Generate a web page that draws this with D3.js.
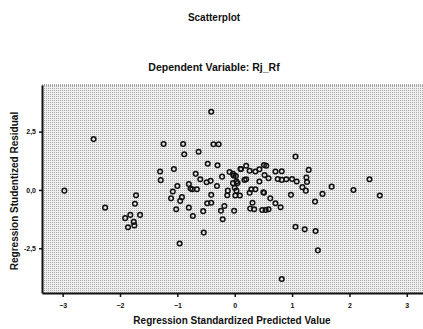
<!DOCTYPE html>
<html>
<head>
<meta charset="utf-8">
<script src="https://cdn.jsdelivr.net/npm/d3@7"></script>
<style>
  body { margin: 0; background: #fff; }
  text { font-family: "Liberation Sans", Arial, sans-serif; font-weight: bold; fill: #111; }
</style>
</head>
<body>
<div id="draw_here"></div>
<script type="text/javascript">
    // Data
    predicted = [-2.97, -2.46, -2.26, -1.72, -1.74, -1.91, -1.82, -1.65, -1.76, -1.86,
        -1.75, -1.24, -1.30, -1.29, -1.06, -0.90, -0.88, -0.63, -0.41, -0.37,
        -0.28, -0.47, -0.30, -0.68, -0.60, -0.49, -0.42, -0.31, -1.08, -1.00,
        -1.11, -0.92, -0.95, -1.02, -0.77, -0.66, -0.80, -0.73, -0.55, -0.48,
        -0.41, -0.41, -0.96, -0.54, -0.22, -0.09, -0.03, 0.02, 0.11, 0.20,
        0.26, 0.36, 0.43, 0.51, 0.55, 0.52, 0.59, 0.71, 0.82, 0.75,
        0.82, 0.90, 1.00, 1.08, 1.06, 1.29, 1.25, 1.26, 1.18, 1.24,
        1.69, 1.53, 1.40, 2.07, 2.35, 2.53, 0.98, 0.62, 0.51, 0.71,
        0.80, 0.59, 0.54, 0.48, 0.34, 0.27, 0.31, -0.01, -0.18, -0.24,
        -0.21, -0.13, 0.01, 0.09, 0.00, 0.03, -0.12, -0.03, 0.03, 0.17,
        0.20, 0.29, 0.36, 0.26, 0.43, 0.50, 1.06, 1.22, 1.41, 1.45,
        0.82, 0.10, -0.02, 0.05, -0.74, -0.80]
    residual = [-0.03, 2.18, -0.76, -0.23, -0.59, -1.21, -1.07, -1.07, -1.37, -1.60,
        -1.52, 1.97, 0.79, 0.42, 0.90, 1.97, 1.53, 1.64, 3.35, 1.96,
        1.96, 1.12, 1.06, 0.69, 0.46, 0.33, 0.39, 0.17, -0.07, 0.17,
        -0.36, -0.31, -0.47, -0.83, 0.06, 0.03, -0.76, -1.12, -0.91, -0.57,
        -0.21, -0.55, -2.30, -1.83, 0.57, 0.77, 0.69, 0.60, 0.90, 1.04,
        0.82, 0.79, 0.89, 1.07, 1.04, 0.64, 0.50, 0.79, 0.80, 0.47,
        0.43, 0.46, 0.47, 0.36, 1.43, 0.86, 0.53, 0.34, 0.12, -0.03,
        0.14, -0.17, -0.50, 0.00, 0.46, -0.24, -0.21, -0.36, -0.12, -0.57,
        -0.74, -0.83, -0.86, -0.86, -0.83, -0.80, -0.55, -0.89, -0.69, -0.89,
        -1.26, -0.23, -0.24, -0.24, 0.09, -0.03, -0.03, 0.29, 0.36, 0.43,
        0.46, 0.03, 0.03, -0.12, 0.36, -0.10, -1.58, -1.69, -1.76, -2.59,
        -3.82, 0.90, 0.62, 0.30, 0.03, 0.25]
    xTicks = [-3, -2, -1, 0, 1, 2, 3]
    yTicks = [2.5, 0.0, -2.5]
    yTickLabels = ["2,5", "0,0", "-2,5"]

    data = d3.transpose([predicted, residual]).map(d => ({x: d[0], y: d[1]}))

    canvas = ({width: 423, height: 329})
    plot = ({left: 42, right: 424, top: 85, bottom: 293})

    x = d3.scaleLinear()
        .domain([-3.36, 3.3])
        .range([plot.left, plot.right])

    y = d3.scaleLinear()
        .domain([-4.42, 4.5])
        .range([plot.bottom, plot.top])

    var svg = d3.select("div#draw_here").append("svg")
        .attr("width", canvas.width)
        .attr("height", canvas.height)
        .attr("viewBox", [0, 0, canvas.width, canvas.height]);

    // dithered grey background, like the scan
    var pat = svg.append("defs").append("pattern")
        .attr("id", "dots")
        .attr("width", 2)
        .attr("height", 2)
        .attr("patternUnits", "userSpaceOnUse")
    pat.append("rect").attr("width", 2).attr("height", 2).attr("fill", "#efefef")
    pat.append("rect").attr("width", 1).attr("height", 1).attr("fill", "#ababab")

    svg.append("rect")
        .attr("x", plot.left)
        .attr("y", plot.top)
        .attr("width", plot.right - plot.left)
        .attr("height", plot.bottom - plot.top)
        .attr("fill", "url(#dots)")

    // top frame line (thin, dotted)
    svg.append("line")
        .attr("x1", plot.left).attr("x2", plot.right)
        .attr("y1", plot.top).attr("y2", plot.top)
        .attr("stroke", "#555")
        .attr("stroke-width", 1)
        .attr("stroke-dasharray", "1,1")

    // points
    svg.append("g")
        .selectAll("circle")
        .data(data)
        .join("circle")
        .attr("cx", d => x(d.x))
        .attr("cy", d => y(d.y))
        .attr("r", 2.3)
        .attr("fill", "none")
        .attr("stroke", "#111")
        .attr("stroke-width", 1.5)

    xAxis = g => g
        .attr("transform", `translate(0,${plot.bottom})`)
        .call(d3.axisBottom(x).tickValues(xTicks).tickFormat(d3.format("d")).tickSize(4).tickPadding(6).tickSizeOuter(0))

    yAxis = g => g
        .attr("transform", `translate(${plot.left},0)`)
        .call(d3.axisLeft(y).tickValues(yTicks).tickFormat((d, i) => yTickLabels[i]).tickSize(3).tickPadding(3).tickSizeOuter(0))

    var gx = svg.append("g").call(xAxis)
    var gy = svg.append("g").call(yAxis)

    for (g of [gx, gy]) {
        g.select(".domain").attr("stroke", "#111").attr("stroke-width", 2)
        g.selectAll(".tick line").attr("stroke", "#111").attr("stroke-width", 1.5)
        g.selectAll(".tick text")
            .attr("font-family", "Liberation Sans, Arial, sans-serif")
            .attr("font-weight", "bold")
            .attr("font-size", 7)
    }

    // titles
    svg.append("text")
        .attr("x", 214).attr("y", 21)
        .attr("text-anchor", "middle")
        .attr("font-size", 10)
        .text("Scatterplot")

    svg.append("text")
        .attr("x", 214).attr("y", 71)
        .attr("text-anchor", "middle")
        .attr("font-size", 10.5)
        .text("Dependent Variable: Rj_Rf")

    svg.append("text")
        .attr("x", 232).attr("y", 324)
        .attr("text-anchor", "middle")
        .attr("font-size", 10)
        .text("Regression Standardized Predicted Value")

    svg.append("text")
        .attr("transform", "translate(18,191) rotate(-90)")
        .attr("text-anchor", "middle")
        .attr("font-size", 10)
        .text("Regression Studentized Residual")
</script>
</body>
</html>
